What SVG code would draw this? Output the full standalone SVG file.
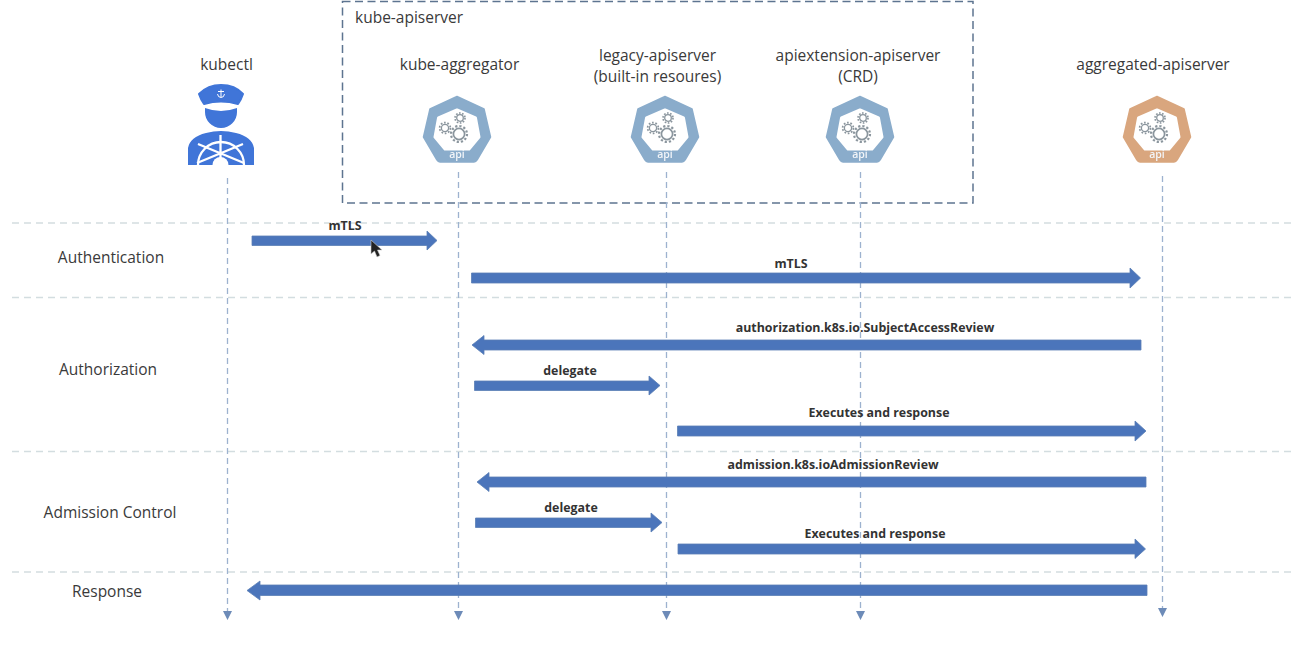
<svg xmlns="http://www.w3.org/2000/svg" width="1292" height="654" viewBox="0 0 1292 654">
<style>
text{font-family:"Open Sans","Liberation Sans",Arial,sans-serif;fill:#3a3a3a}
.t{font-size:15.500px;text-anchor:middle}
.b{font-size:12.400px;font-weight:700;text-anchor:middle;fill:#333}
.sep{stroke:#d3dde0;stroke-width:1.300;stroke-dasharray:7 5;fill:none}
.life{stroke:#9db2cf;stroke-width:1.300;stroke-dasharray:6 4;fill:none}
.arr{fill:#4b75bb;stroke:#5a7fb5;stroke-width:.8}
.tip{fill:#6d8bb8}
.soft{filter:url(#soft)}
</style>
<defs>
<filter id="soft" x="-10%" y="-10%" width="120%" height="120%"><feGaussianBlur stdDeviation=".45"/></filter>
<g id="gears" fill="none" stroke="#76828c" stroke-opacity=".85">
<circle cx="-12" cy="-2" r="3.600" stroke-width="1.300"/>
<circle cx="-12" cy="-2" r="5.400" stroke-width="1.700" stroke-dasharray="1.700 1.700"/>
<circle cx="3" cy="-12" r="3.300" stroke-width="1.300"/>
<circle cx="3" cy="-12" r="5" stroke-width="1.700" stroke-dasharray="1.600 1.540"/>
<circle cx="2" cy="4" r="5.600" stroke-width="1.700"/>
<circle cx="2" cy="4" r="8" stroke-width="2.200" stroke-dasharray="2.200 2"/>
</g>
<g id="api">
<path d="M0-33.500 L27-21 33.500 7 L20 30 Q19 32 17 32 H-17 Q-19 32 -20 30 L-33.500 7 -27-21Z" stroke-width="1.500" stroke-linejoin="round"/>
<path d="M0-20 L18.500-12 22 7 L12 19 H-12 L-22 7 -18.500-12Z" fill="#fff" stroke="#fff" stroke-width="3" stroke-linejoin="round"/>
<use href="#gears"/>
<text x="0" y="28" style="font-size:10.500px;font-weight:600;fill:#f2f5f8;text-anchor:middle;stroke:none">api</text>
</g>
</defs>

<g id="separators">
<path class="sep" d="M12 223H1292M12 297.500H1292M12 451.500H1292M12 572H1292"/>
</g>

<g id="kube-apiserver">
<rect x="342.500" y="1.500" width="630.500" height="201.500" fill="none" stroke="#5d7490" stroke-width="1.500" stroke-dasharray="8 4.500"/>
<text x="355" y="22.500" style="font-size:15.500px">kube-apiserver</text>
</g>

<g id="connectors">
<path class="life" d="M227.500 178V612M458.500 172V612M666.500 172V612M860.500 172V612M1162.500 176V609"/>
<path class="tip" d="M223 611h9l-4.500 9zM454 611h9l-4.500 9zM662 611h9l-4.500 9zM856 611h9l-4.500 9zM1158 608h9l-4.500 9z"/>
<path class="arr" d="M252 236H427V231L437 240.500 427 250V245.500H252Z"/>
<path class="arr" d="M471.500 273H1130V268L1140.500 278 1130 288V283H471.500Z"/>
<path class="arr" d="M1141 340H484V335.500L472 345 484 354.500V350H1141Z"/>
<path class="arr" d="M474.500 381H649V376L660 385.500 649 395V390.500H474.500Z"/>
<path class="arr" d="M677.500 426H1135V421L1146 431 1135 441V436H677.500Z"/>
<path class="arr" d="M1146 477H489V472.500L477 482 489 491.500V487H1146Z"/>
<path class="arr" d="M475.500 518H651V513L662 522.500 651 532V527.500H475.500Z"/>
<path class="arr" d="M678 544H1135V539L1145.500 549 1135 558.500V554H678Z"/>
<path class="arr" d="M1147 585H260V581L247 590.500 260 600V595.500H1147Z"/>
</g>

<g id="labels">
<text class="b" x="345" y="230">mTLS</text>
<text class="b" x="791" y="268">mTLS</text>
<text class="b" x="865" y="332">authorization.k8s.io.SubjectAccessReview</text>
<text class="b" x="570" y="375">delegate</text>
<text class="b" x="879" y="417">Executes and response</text>
<text class="b" x="833" y="469">admission.k8s.ioAdmissionReview</text>
<text class="b" x="571" y="512">delegate</text>
<text class="b" x="875" y="538">Executes and response</text>
</g>

<g id="phases">
<text class="t" x="111" y="263">Authentication</text>
<text class="t" x="108" y="375">Authorization</text>
<text class="t" x="110" y="518">Admission Control</text>
<text class="t" x="107" y="597">Response</text>
</g>

<g id="kubectl">
<text class="t" x="226.500" y="69.500">kubectl</text>
<g class="soft">
<path d="M199 94Q208 85 221 85Q235 85 243 94Q241 100 238 104Q221 99 204 104Q201 100 199 94Z" fill="#3f74d8" stroke="#3f74d8" stroke-width="2" stroke-linejoin="round"/>
<path d="M221 89.500V97M218 91.500H224M217.500 94Q218 97.500 221 97.500T224.500 94" fill="none" stroke="#fff" stroke-width="1"/>
<path d="M205 108Q221 114 237 108V112A16 16 0 0 1 205 112Z" fill="#3f74d8"/>
<path d="M188 165V148Q190 137 206 133Q221 129 236 133Q252 137 254 148V165Z" fill="#3f74d8"/>
<g fill="none" stroke="#fff" stroke-width="2.300">
<path d="M198 165A23 23 0 0 1 244 165"/>
<path d="M220.500 135V165M198 144L244 163M243 144L197 163"/>
</g>
<circle cx="220.500" cy="165" r="8" fill="#fff"/>
</g>
</g>

<g id="kube-aggregator">
<text class="t" x="459.500" y="69.500">kube-aggregator</text>
<use class="soft" href="#api" x="457" y="130" fill="#8aaccb" stroke="#8aaccb"/>
</g>
<g id="legacy-apiserver">
<text class="t" x="657.500" y="60.500">legacy-apiserver</text>
<text class="t" x="657.500" y="81.500">(built-in resoures)</text>
<use class="soft" href="#api" x="665" y="130" fill="#8aaccb" stroke="#8aaccb"/>
</g>
<g id="apiextension-apiserver">
<text class="t" x="858" y="61">apiextension-apiserver</text>
<text class="t" x="858" y="81.500">(CRD)</text>
<use class="soft" href="#api" x="860" y="130" fill="#8aaccb" stroke="#8aaccb"/>
</g>
<g id="aggregated-apiserver">
<text class="t" x="1153" y="69.500">aggregated-apiserver</text>
<use class="soft" href="#api" x="1157" y="130" fill="#d9a67e" stroke="#d9a67e"/>
</g>

<g id="cursor">
<path d="M371 240V254L374.500 251 377 257 380 255.500 377.500 250H382Z" fill="#222" stroke="#ccc" stroke-width=".6"/>
</g>
</svg>
